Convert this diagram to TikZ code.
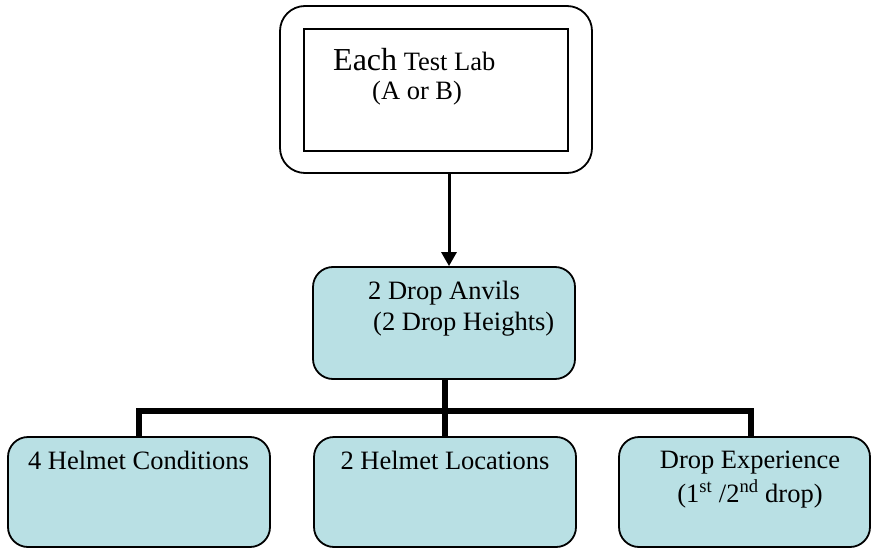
\documentclass[tikz,border=0pt]{standalone}
\usepackage{fontspec}
\setmainfont{Liberation Serif}
\usetikzlibrary{arrows.meta}
\definecolor{boxfill}{RGB}{185,224,228}
\tikzset{
  outerbox/.style={draw=black, line width=1.8pt, rounded corners=25pt, inner sep=0pt},
  innerbox/.style={draw=black, line width=1.6pt, inner sep=0pt},
  bluebox/.style={draw=black, fill=boxfill, line width=1.8pt, rounded corners=20pt, inner sep=0pt},
  txt/.style={inner sep=0pt, anchor=base west, font=\fontsize{26.5}{30}\selectfont},
  ctxt/.style={inner sep=0pt, anchor=base, font=\fontsize{26.5}{30}\selectfont},
  arr/.style={line width=3pt, -{Triangle[width=15pt,length=14pt]}},
  bar/.style={line width=5.5pt, line join=miter, line cap=butt},
}
\begin{document}
\begin{tikzpicture}[x=1pt,y=-1pt]
\useasboundingbox (0,0) rectangle (872,548);
% top boxes
\node[outerbox, minimum width=312pt, minimum height=167pt] (top) at (436,89.5) {};
\node[innerbox, minimum width=264pt, minimum height=122pt] (inner) at (436,90) {};
\node[txt] (t1) at (333,71) {{\fontsize{32}{34}\selectfont Each} Test Lab};
\node[txt] (t2) at (372,100) {(A or B)};
% middle box
\node[bluebox, minimum width=262pt, minimum height=112pt] (mid) at (444,323) {};
\node[txt] (m1) at (368,299) {2 Drop Anvils};
\node[txt] (m2) at (373,330) {(2 Drop Heights)};
% bottom boxes
\node[bluebox, minimum width=262pt, minimum height=110pt] (b1) at (139,492) {};
\node[bluebox, minimum width=262pt, minimum height=110pt] (b2) at (445,492) {};
\node[bluebox, minimum width=251pt, minimum height=110pt] (b3) at (744.5,492) {};
\node[ctxt] (l1) at (138.5,469) {4 Helmet Conditions};
\node[ctxt] (l2) at (445,469) {2 Helmet Locations};
\node[ctxt] (l3) at (750,468) {Drop Experience};
\node[ctxt] (l4) at (750,502) {(1\textsuperscript{st} /2\textsuperscript{nd} drop)};
% connectors
\coordinate (ax) at (449,0);
\draw[arr] (top.south -| ax) -- (mid.north -| ax);
\coordinate (jm) at (445,411);
\coordinate (jl) at (139,411);
\coordinate (jr) at (751,411);
\draw[bar] (mid.south -| jm) -- (jm);
\draw[bar] (b1.north -| jl) -- (jl) -- (jr) -- (b3.north -| jr);
\draw[bar] (jm) -- (b2.north -| jm);
\end{tikzpicture}
\end{document}
